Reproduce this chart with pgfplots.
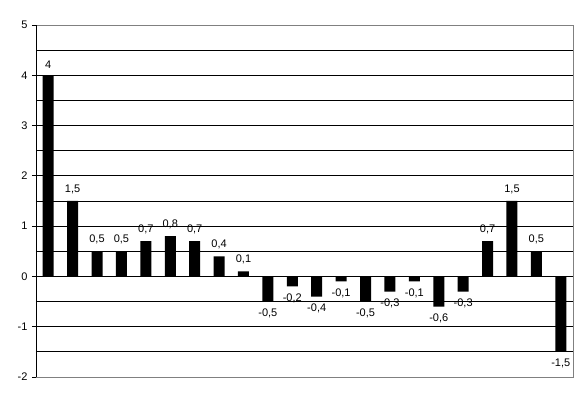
\documentclass[border=0pt]{standalone}
\usepackage{pgfplots}
\pgfplotsset{compat=1.18}
\usepackage{fontspec}
\setmainfont{Liberation Sans}
\begin{document}
\begin{tikzpicture}
\path[use as bounding box] (-36pt,-26pt) rectangle (552pt,377pt);
\begin{axis}[
    at={(0pt,0pt)}, anchor=south west,
    scale only axis, width=537pt, height=352pt,
    ybar, bar width=11pt,
    xmin=0.5, xmax=22.5, ymin=-2, ymax=5,
    xtick=\empty,
    ytick={-2,-1,0,1,2,3,4,5},
    minor y tick num=1,
    ymajorgrids, yminorgrids,
    major grid style={black, line width=0.9pt},
    minor grid style={black, line width=0.9pt},
    ytick pos=left, tick align=outside,
    major tick length=4pt, minor tick length=0pt,
    tick style={black, line width=0.9pt},
    axis line style={gray, line width=0.9pt},
    /pgf/number format/use comma,
    /pgf/number format/assume math mode=true,
    y tick label style={font=\fontsize{11}{13}\selectfont, xshift=-1pt},
    nodes near coords, nodes near coords align=vertical,
    every node near coord/.append style={font=\fontsize{11}{13}\selectfont, black, inner xsep=2pt, inner ysep=7pt},
]
\addplot[fill=black, draw=none] coordinates {
(1,4) (2,1.5) (3,0.5) (4,0.5) (5,0.7) (6,0.8) (7,0.7) (8,0.4) (9,0.1)
(10,-0.5) (11,-0.2) (12,-0.4) (13,-0.1) (14,-0.5) (15,-0.3) (16,-0.1)
(17,-0.6) (18,-0.3) (19,0.7) (20,1.5) (21,0.5) (22,-1.5)
};
\draw[black, line width=0.9pt] (rel axis cs:0,0) -- (rel axis cs:0,1);
\end{axis}
\end{tikzpicture}
\end{document}
